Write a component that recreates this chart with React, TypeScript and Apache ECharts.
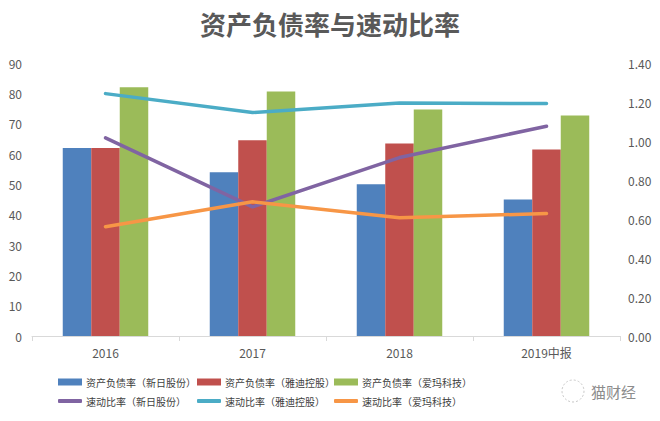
import React, { useEffect, useRef } from "react";
import * as echarts from "echarts";

const categories = ["2016", "2017", "2018", "2019中报"];
const debtXinri = [62, 54, 50, 45];
const debtYadi = [62, 64.5, 63.5, 61.5];
const debtAima = [82, 80.6, 74.7, 72.7];
const quickXinri = [1.016, 0.662, 0.915, 1.076];
const quickYadi = [1.243, 1.146, 1.195, 1.192];
const quickAima = [0.56, 0.688, 0.606, 0.628];
const leftTicks = { min: 0, max: 90, interval: 10 };
const rightTicks = { min: 0, max: 1.4, interval: 0.2 };

const FONT = "'Noto Sans CJK SC', 'Noto Sans', sans-serif";
const AXIS_TEXT = "#595959";

export default function App() {
  const ref = useRef<HTMLDivElement>(null);
  useEffect(() => {
    if (!ref.current) return;
    const chart = echarts.init(ref.current, null, { renderer: "svg" });
    const names = [
      "资产负债率（新日股份）",
      "资产负债率（雅迪控股）",
      "资产负债率（爱玛科技）",
      "速动比率（新日股份）",
      "速动比率（雅迪控股）",
      "速动比率（爱玛科技）",
    ];
    const legendPos = [
      [58, 384],
      [197, 384],
      [334, 384],
      [58, 403],
      [197, 403],
      [334, 403],
    ];
    const legends = names.map((n, i) => ({
      data: [n],
      left: legendPos[i][0],
      top: legendPos[i][1] - 7,
      padding: 0,
      itemWidth: 24,
      itemHeight: i < 3 ? 7 : 4,
      itemGap: 0,
      icon: i < 3 ? "rect" : "roundRect",
      textStyle: { fontSize: 10, color: "#404040", fontFamily: FONT, padding: [0, 0, 0, -1] },
      selectedMode: false,
    }));
    const lineStyle = (c: string) => ({ width: 3.5, color: c, cap: "round" as const });
    chart.setOption({
      animation: false,
      textStyle: { fontFamily: FONT },
      title: {
        text: "资产负债率与速动比率",
        left: "center",
        top: 5,
        textStyle: { fontSize: 26, fontWeight: "bold", color: "#595959", fontFamily: FONT },
      },
      legend: legends,
      grid: { left: 32, right: 40, top: 63, bottom: 85, containLabel: false },
      xAxis: {
        type: "category",
        data: categories,
        axisLine: { lineStyle: { color: "#d9d9d9", width: 1 } },
        axisTick: { show: true, length: 5, lineStyle: { color: "#d9d9d9" } },
        axisLabel: { color: AXIS_TEXT, fontSize: 12, margin: 10, fontFamily: FONT },
      },
      yAxis: [
        {
          type: "value",
          min: leftTicks.min,
          max: leftTicks.max,
          interval: leftTicks.interval,
          axisLine: { show: false },
          axisTick: { show: false },
          splitLine: { show: false },
          axisLabel: { color: AXIS_TEXT, fontSize: 12, margin: 10, fontFamily: FONT },
        },
        {
          type: "value",
          min: rightTicks.min,
          max: rightTicks.max,
          interval: rightTicks.interval,
          axisLine: { show: false },
          axisTick: { show: false },
          splitLine: { show: false },
          axisLabel: {
            color: AXIS_TEXT,
            fontSize: 12,
            margin: 8,
            fontFamily: FONT,
            formatter: (v: number) => v.toFixed(2),
          },
        },
      ],
      series: [
        { name: names[0], type: "bar", data: debtXinri, barWidth: 28.5, barGap: "0%", itemStyle: { color: "#4f81bd" } },
        { name: names[1], type: "bar", data: debtYadi, barWidth: 28.5, barGap: "0%", itemStyle: { color: "#c0504d" } },
        { name: names[2], type: "bar", data: debtAima, barWidth: 28.5, barGap: "0%", itemStyle: { color: "#9bbb59" } },
        { name: names[3], type: "line", yAxisIndex: 1, data: quickXinri, showSymbol: false, symbol: "none", lineStyle: lineStyle("#8064a2"), itemStyle: { color: "#8064a2" } },
        { name: names[4], type: "line", yAxisIndex: 1, data: quickYadi, showSymbol: false, symbol: "none", lineStyle: lineStyle("#4bacc6"), itemStyle: { color: "#4bacc6" } },
        { name: names[5], type: "line", yAxisIndex: 1, data: quickAima, showSymbol: false, symbol: "none", lineStyle: lineStyle("#f79646"), itemStyle: { color: "#f79646" } },
      ],
      graphic: [
        {
          type: "circle",
          shape: { cx: 573, cy: 391, r: 11 },
          style: { fill: "none", stroke: "#c8c8c8", lineWidth: 1, lineDash: [2, 2] },
        },
        {
          type: "text",
          left: 591,
          top: 384,
          style: { text: "猫财经", fontSize: 15, fill: "#8c8c8c", fontFamily: FONT },
        },
      ],
    });
    return () => chart.dispose();
  }, []);
  return (
    <div
      ref={ref}
      style={{ position: "fixed", left: 0, top: 0, width: 660, height: 421, background: "#fff" }}
    />
  );
}
